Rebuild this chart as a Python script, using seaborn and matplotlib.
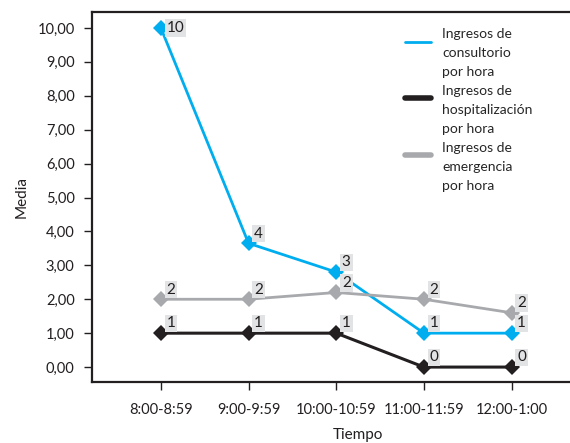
import pandas as pd
import seaborn as sns
import matplotlib.pyplot as plt
from matplotlib.lines import Line2D
from matplotlib.legend_handler import HandlerLine2D

tiempos = ['8:00-8:59', '9:00-9:59', '10:00-10:59', '11:00-11:59', '12:00-1:00']
consultorio = [10.0, 3.65, 2.8, 1.0, 1.0]
hospitalizacion = [1.0, 1.0, 1.0, 0.0, 0.0]
emergencia = [2.0, 2.0, 2.2, 2.0, 1.6]
etiquetas_consultorio = ['10', '4', '3', '1', '1']
etiquetas_hospitalizacion = ['1', '1', '1', '0', '0']
etiquetas_emergencia = ['2', '2', '2', '2', '2']
series = ['Ingresos de\nconsultorio\npor hora',
          'Ingresos de\nhospitalización\npor hora',
          'Ingresos de\nemergencia\npor hora']
colores = ['#00aeef', '#231f20', '#a7a9ac']


class HandlerTopLine(HandlerLine2D):
    """handle drawn next to the first text line, not the middle one"""
    def create_artists(self, legend, orig_handle, xdescent, ydescent,
                       width, height, fontsize, trans):
        arts = super().create_artists(legend, orig_handle, xdescent, ydescent,
                                      width, height, fontsize, trans)
        for a in arts:
            a.set_ydata([y + 8.5 for y in a.get_ydata()])
        return arts


sns.set_style('white')
plt.rcParams['font.family'] = ['Lato', 'DejaVu Sans']

rows = []
for nombre, valores in zip(series, [consultorio, hospitalizacion, emergencia]):
    for i, v in enumerate(valores):
        rows.append({'Tiempo': i, 'Media': v, 'serie': nombre})
df = pd.DataFrame(rows)

fig = plt.figure(figsize=(5.7, 4.43), dpi=100)
ax = fig.add_axes([92 / 570, 1 - 382 / 443, 1 - 92 / 570 + 0.01, (382 - 12) / 443])

sns.lineplot(data=df, x='Tiempo', y='Media', hue='serie', hue_order=series,
             palette=colores, marker='D', markersize=8, markeredgewidth=0,
             dashes=False, ax=ax, legend=False)
for line, lw in zip(ax.lines, [2.0, 2.2, 2.0]):
    line.set_linewidth(lw)
    line.set_zorder(3)

for valores, etiquetas in [(consultorio, etiquetas_consultorio),
                           (hospitalizacion, etiquetas_hospitalizacion),
                           (emergencia, etiquetas_emergencia)]:
    for i, (v, t) in enumerate(zip(valores, etiquetas)):
        dy = 0 if v >= 9.5 else 7
        ax.annotate(t, (i, v), xytext=(4, dy), textcoords='offset points',
                    ha='left', va='center', fontsize=11, color='#231f20',
                    bbox=dict(boxstyle='square,pad=0.12', fc='#e2e3e4', ec='none'),
                    zorder=4)

ax.set_xlim(-0.785, 4.73)
ax.set_ylim(-0.44, 10.47)
ax.set_xticks(range(len(tiempos)))
ax.set_xticklabels(tiempos)
ax.set_yticks(range(11))
ax.set_yticklabels([f'{v},00' for v in range(11)])
ax.tick_params(axis='both', labelsize=10.5, colors='#231f20', length=6, width=1,
               direction='out', bottom=True, left=True, pad=6.5)
ax.tick_params(axis='x', pad=9)
for side in ['left', 'bottom', 'top']:
    ax.spines[side].set_color('#231f20')
    ax.spines[side].set_linewidth(1.6)
ax.spines['right'].set_visible(False)

ax.set_ylabel('Media', fontsize=11, color='#231f20', labelpad=6)
ax.set_xlabel('Tiempo', fontsize=11, color='#231f20')
ax.xaxis.set_label_coords(0.55, -0.125)

handles = [Line2D([0], [0], color=c, lw=lw) for c, lw in zip(colores, [2, 4, 4])]
leg = ax.legend(handles, series, loc='upper left', bbox_to_anchor=(0.632, 0.975),
                frameon=False, fontsize=10, handlelength=1.9, handletextpad=0.8,
                labelspacing=0.5, borderpad=0.0,
                handler_map={Line2D: HandlerTopLine()})
for t in leg.get_texts():
    t.set_linespacing(1.7)

fig.savefig('out.png', dpi=100)
